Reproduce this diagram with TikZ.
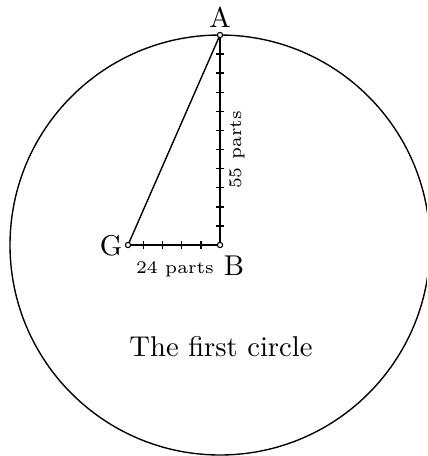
\documentclass[tikz,border=0pt]{standalone}
\usetikzlibrary{calc}
\begin{document}
\begin{tikzpicture}[x=0.36pt,y=-0.36pt,line width=0.5pt,
  pt/.style={circle,draw,fill=white,inner sep=0pt,minimum size=1.9pt,line width=0.4pt},
  lbl/.style={font=\fontsize{10.3}{12}\selectfont,inner sep=1pt},
  small/.style={font=\fontsize{6.4}{8}\selectfont,inner sep=1pt}]
\useasboundingbox (0,0) rectangle (427,456);
\clip (0,0) rectangle (427,456);
\coordinate (B) at (220,245);
\coordinate (A) at (220,35);
\coordinate (G) at (128,245);
\draw (B) circle[radius=210];
\draw (G) -- (A);
\draw (A) -- (B) -- (G);
\foreach \k in {1,...,10}{
  \draw ($(B)+(-4,-19.0909*\k)$) -- ++(8,0);
}
\foreach \k in {1,...,4}{
  \draw ($(B)+(-19.1667*\k,-4)$) -- ++(0,8);
}
\node[pt] (pA) at (A) {};
\node[pt] (pB) at (B) {};
\node[pt] (pG) at (G) {};
\node[lbl] (lA) at (220,17) {A};
\node[lbl] (lG) at (111,246) {G};
\node[lbl] (lB) at (234,266) {B};
\node[small] (l24) at (175,269) {24 parts};
\node[small,rotate=90] (l55) at (237,150) {55 parts};
\node[lbl] (title) at (221,347) {The first circle};
\end{tikzpicture}
\end{document}
